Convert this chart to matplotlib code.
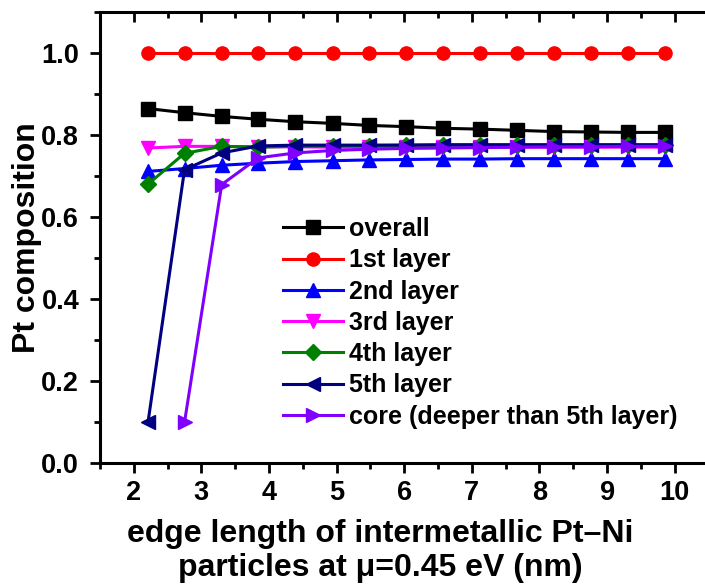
import matplotlib
matplotlib.use("Agg")
import matplotlib.pyplot as plt
from matplotlib.ticker import MultipleLocator

plt.rcParams['font.family'] = ['Liberation Sans', 'DejaVu Sans']
plt.rcParams['font.weight'] = 'bold'
plt.rcParams['axes.labelweight'] = 'bold'

# edge length (nm)
edge = [2.21, 2.75, 3.30, 3.84, 4.39, 4.94, 5.48, 6.03, 6.58, 7.12, 7.67, 8.22, 8.76, 9.31, 9.85]

overall = [0.864, 0.854, 0.845, 0.838, 0.832, 0.828, 0.823, 0.820, 0.816, 0.814, 0.811, 0.808, 0.807, 0.806, 0.806]
layer1 = [1.0] * 15
layer2 = [0.711, 0.718, 0.726, 0.731, 0.735, 0.737, 0.739, 0.740, 0.741, 0.741, 0.742, 0.742, 0.742, 0.742, 0.742]
layer3 = [0.768, 0.772, 0.772, 0.771, 0.771, 0.770, 0.770, 0.770, 0.770, 0.770, 0.770, 0.770, 0.770, 0.770, 0.770]
layer4 = [0.680, 0.755, 0.772, 0.770, 0.772, 0.773, 0.774, 0.775, 0.775, 0.775, 0.775, 0.775, 0.775, 0.775, 0.775]
layer5 = [0.100, 0.715, 0.756, 0.773, 0.775, 0.775, 0.775, 0.775, 0.776, 0.776, 0.776, 0.776, 0.776, 0.776, 0.776]
core_x = edge[1:]
core = [0.100, 0.679, 0.744, 0.756, 0.762, 0.765, 0.767, 0.768, 0.769, 0.770, 0.771, 0.771, 0.772, 0.772]

fig = plt.figure(figsize=(7.05, 5.88), dpi=100)
ax = fig.add_axes([100/705, 1 - 463.3/588, 605/705 + 0.005, (463.3 - 11.7)/588])

lw = 2.2
ms = 9.5
ax.plot(edge, overall, color='black', marker='s', lw=lw, ms=ms, label='overall')
ax.plot(edge, layer1, color='#FF0000', marker='o', lw=lw, ms=ms, label='1st layer')
ax.plot(edge, layer2, color='#0000FF', marker='^', lw=lw, ms=ms + 0.5, label='2nd layer')
ax.plot(edge, layer3, color='#FF00FF', marker='v', lw=lw, ms=ms + 0.5, label='3rd layer')
ax.plot(edge, layer4, color='#008000', marker='D', lw=lw, ms=ms - 1, label='4th layer')
ax.plot(edge, layer5, color='#000080', marker='<', lw=lw, ms=ms + 0.5, label='5th layer')
ax.plot(core_x, core, color='#8000FF', marker='>', lw=lw, ms=ms + 0.5, label='core (deeper than 5th layer)')

ax.set_xlim(1.5, 10.5)
ax.set_ylim(0, 1.1)
ax.xaxis.set_major_locator(MultipleLocator(1))
ax.xaxis.set_minor_locator(MultipleLocator(0.5))
ax.yaxis.set_major_locator(MultipleLocator(0.2))
ax.yaxis.set_minor_locator(MultipleLocator(0.1))
ax.set_yticks([0.0, 0.2, 0.4, 0.6, 0.8, 1.0])
ax.set_yticklabels(['0.0', '0.2', '0.4', '0.6', '0.8', '1.0'])

for s in ax.spines.values():
    s.set_linewidth(2.2)
ax.tick_params(which='both', width=2, labelsize=19.5, top=True, right=True)
ax.tick_params(which='major', length=7)
ax.tick_params(which='minor', length=4.5)
ax.tick_params(axis='x', which='both', direction='out', pad=5)
ax.tick_params(axis='y', which='both', direction='out', pad=8)
# top and right ticks point inward
for t in ax.xaxis.get_major_ticks() + ax.xaxis.get_minor_ticks():
    t.tick2line.set_marker(3)
for t in ax.yaxis.get_major_ticks() + ax.yaxis.get_minor_ticks():
    t.tick2line.set_marker(1)

ax.set_xlabel('edge length of intermetallic Pt\u2013Ni\nparticles at \u03bc=0.45 eV (nm)',
              fontsize=23, fontweight='bold', linespacing=1.15)
ax.xaxis.set_label_coords(0.461, -0.124, transform=ax.transAxes)
ax.set_ylabel('Pt composition', fontsize=23, fontweight='bold')
ax.yaxis.set_label_coords(-0.096, 0.5, transform=ax.transAxes)

leg = ax.legend(loc='upper left', bbox_to_anchor=(0.301, 0.545), frameon=False,
                fontsize=18, handlelength=2.4, handletextpad=0.25, labelspacing=0.29,
                borderpad=0, borderaxespad=0)

fig.savefig('out.png', dpi=100)
